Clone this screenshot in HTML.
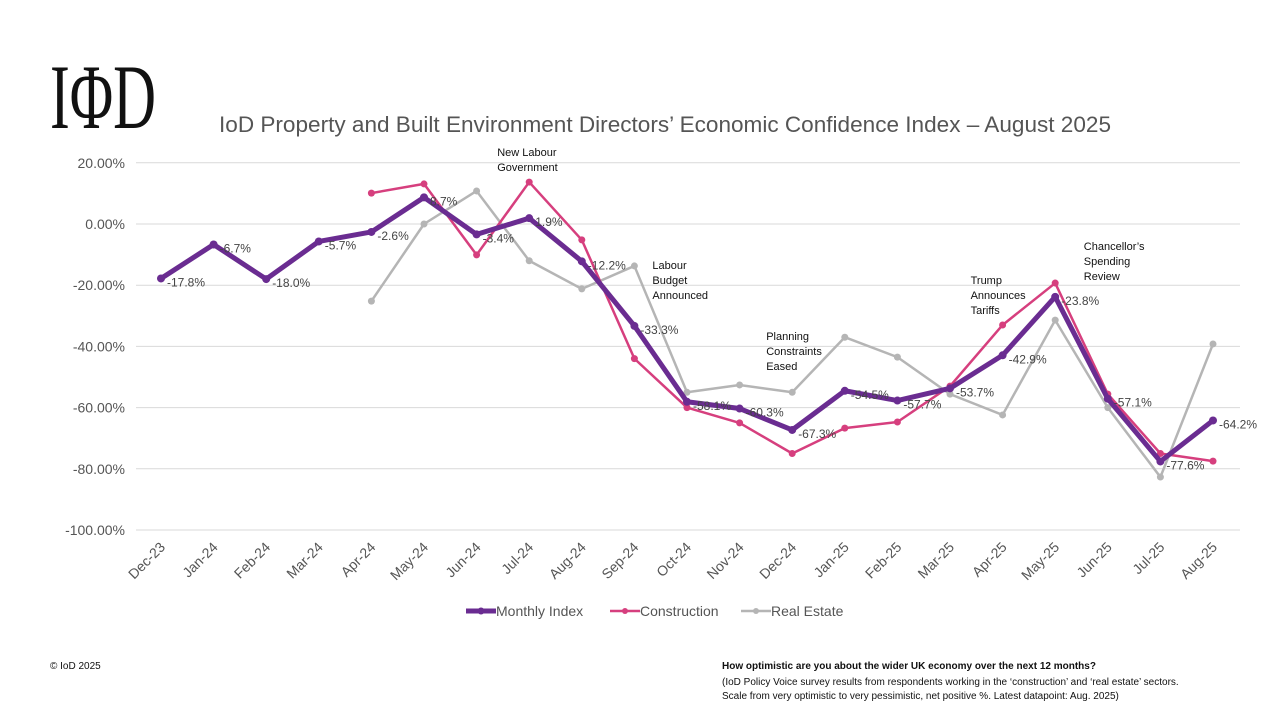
<!DOCTYPE html>
<html><head><meta charset="utf-8">
<style>
body{margin:0;width:1280px;height:720px;background:#fff;overflow:hidden;font-family:"Liberation Sans",sans-serif;}
svg text{font-family:"Liberation Sans",sans-serif;}
</style></head>
<body>
<svg id="chart" width="1280" height="720">
<text x="50" y="128" style="font-family:'Liberation Serif',serif" font-size="92" fill="#111" textLength="106" lengthAdjust="spacingAndGlyphs">IΦD</text>
<text x="665" y="132" text-anchor="middle" font-size="22" fill="#555" textLength="892" lengthAdjust="spacingAndGlyphs">IoD Property and Built Environment Directors’ Economic Confidence Index – August 2025</text>
<g id="grid"></g><g id="series"></g><g id="labels"></g>
<g>
<line x1="466" y1="611" x2="496" y2="611" stroke="#6a2c91" stroke-width="5"/><circle cx="481" cy="611" r="3.5" fill="#6a2c91"/>
<text x="496" y="616" font-size="14" fill="#555">Monthly Index</text>
<line x1="610" y1="611" x2="640" y2="611" stroke="#d63f7e" stroke-width="2.5"/><circle cx="625" cy="611" r="3" fill="#d63f7e"/>
<text x="640" y="616" font-size="14" fill="#555">Construction</text>
<line x1="741" y1="611" x2="771" y2="611" stroke="#b5b5b5" stroke-width="2.5"/><circle cx="756" cy="611" r="3" fill="#b5b5b5"/>
<text x="771" y="616" font-size="14" fill="#555">Real Estate</text>
</g>
<text x="50" y="669" font-size="10" fill="#111">© IoD 2025</text>
<text x="722" y="669" font-size="10" font-weight="bold" fill="#111">How optimistic are you about the wider UK economy over the next 12 months?</text>
<text x="722" y="685" font-size="10" fill="#111">(IoD Policy Voice survey results from respondents working in the ‘construction’ and ‘real estate’ sectors.</text>
<text x="722" y="699" font-size="10" fill="#111">Scale from very optimistic to very pessimistic, net positive %. Latest datapoint: Aug. 2025)</text>
</svg>
<script>
const categories=["Dec-23","Jan-24","Feb-24","Mar-24","Apr-24","May-24","Jun-24","Jul-24","Aug-24","Sep-24","Oct-24","Nov-24","Dec-24","Jan-25","Feb-25","Mar-25","Apr-25","May-25","Jun-25","Jul-25","Aug-25"];
const monthly=[-17.8,-6.7,-18.0,-5.7,-2.6,8.7,-3.4,1.9,-12.2,-33.3,-58.1,-60.3,-67.3,-54.5,-57.7,-53.7,-42.9,-23.8,-57.1,-77.6,-64.2];
const construction=[null,null,null,null,10.1,13.1,-10.1,13.7,-5.2,-44,-60,-65,-75,-66.7,-64.7,-53,-33,-19.3,-55.6,-75,-77.5];
const realEstate=[null,null,null,null,-25.2,0,10.8,-12,-21.2,-13.7,-55,-52.6,-55,-37,-43.5,-55.6,-62.4,-31.4,-60,-82.7,-39.2];
const yTicks=[20,0,-20,-40,-60,-80,-100];
const events=[{i:7,lines:["New Labour","Government"],dx:-32,y:156},{i:9,lines:["Labour","Budget","Announced"],dx:18,y:269},{i:12,lines:["Planning","Constraints","Eased"],dx:-26,y:340},{i:16,lines:["Trump","Announces","Tariffs"],dx:-32,y:284},{i:18,lines:["Chancellor’s","Spending","Review"],dx:-24,y:250}];
const NS="http://www.w3.org/2000/svg";
const x=i=>161+i*(1213-161)/20;
const y=v=>224-v*3.06;
function mk(tag,attrs,parent,txt){const e=document.createElementNS(NS,tag);for(const k in attrs)e.setAttribute(k,attrs[k]);if(txt!=null)e.textContent=txt;parent.appendChild(e);return e;}
const grid=document.getElementById('grid'),ser=document.getElementById('series'),lab=document.getElementById('labels');
yTicks.forEach(t=>{
 const l=mk('line',{x1:136,x2:1240,y1:y(t),y2:y(t),stroke:'#d9d9d9','stroke-width':1},grid);
 
 
 const tx=mk('text',{x:125,y:y(t)+5,'text-anchor':'end','font-size':14,fill:'#555'},grid,t.toFixed(2)+'%');
 
 
});
categories.forEach((c,i)=>{
 const tx=mk('text',{x:x(i)+5,y:548,'text-anchor':'end','font-size':14,fill:'#555',transform:`rotate(-45 ${x(i)+5} 548)`},grid,c);
 
 
});
function draw(data,color,w,r,name){
 let d='';data.forEach((v,i)=>{if(v==null)return;d+=(d?'L':'M')+x(i)+' '+y(v);});
 const p=mk('path',{d,fill:'none',stroke:color,'stroke-width':w,'stroke-linejoin':'round'},ser);
 
 
 data.forEach((v,i)=>{if(v==null)return;const c=mk('circle',{cx:x(i),cy:y(v),r,fill:color},ser);
 
 });
}
draw(realEstate,'#b5b5b5',2.5,3.5,'real-estate');
draw(construction,'#d63f7e',2.5,3.5,'construction');
draw(monthly,'#6a2c91',5,4,'monthly-index');
monthly.forEach((v,i)=>{
 const t=mk('text',{x:x(i)+6,y:y(v)+8,'font-size':12,fill:'#444'},lab,v.toFixed(1)+'%');
 
 
});
events.forEach(ev=>{
 ev.lines.forEach((s,k)=>{const t=mk('text',{x:x(ev.i)+ev.dx,y:ev.y+k*15,'font-size':11,fill:'#111'},lab,s);
 
 });
});
</script>
</body></html>
